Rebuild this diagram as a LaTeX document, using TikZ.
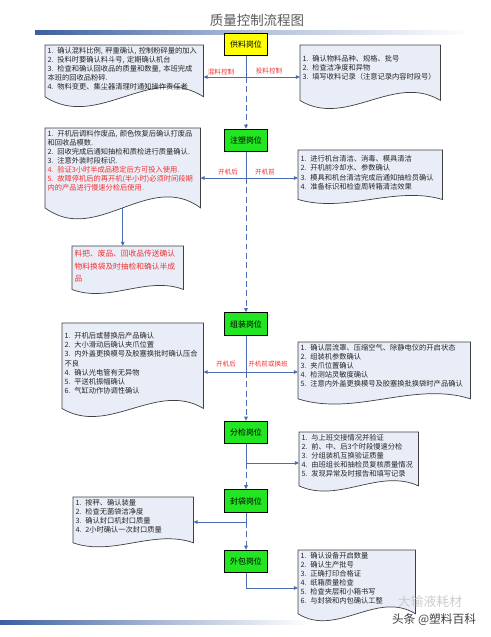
\documentclass[tikz,border=0pt]{standalone}
\usepackage{fontspec}
\newfontfamily\cjk{Noto Sans CJK SC}
\usetikzlibrary{arrows.meta,positioning,calc,backgrounds}
\XeTeXlinebreaklocale "zh"
\XeTeXlinebreakskip=0pt plus 1pt

\definecolor{flowblue}{RGB}{74,110,176}
\definecolor{docfill}{RGB}{233,237,247}
\definecolor{docedge}{RGB}{64,64,64}
\definecolor{warnred}{RGB}{240,50,50}
\definecolor{postgreen}{RGB}{34,230,34}
\definecolor{postyellow}{RGB}{255,255,0}
\definecolor{barblue}{RGB}{60,95,160}

\tikzset{
    post/.style={rectangle, draw=black, line width=0.6pt, minimum width=1.29cm, minimum height=0.68cm, inner sep=1pt, font=\cjk\fontsize{6.8}{8}\selectfont},
    greenpost/.style={post, fill=postgreen},
    docnode/.style={anchor=north west, inner xsep=2pt, inner ysep=1.5pt, align=left, font=\cjk\fontsize{6.2}{7.7}\selectfont, text=black!85},
    docline/.style={draw=docedge, line width=0.6pt, fill=docfill},
    flow/.style={draw=flowblue, line width=0.8pt},
    tip/.style={-{Triangle[length=3.5pt,width=3pt]}},
    flowdash/.style={flow, dash pattern=on 5pt off 3pt},
    tag/.style={text=warnred, font=\cjk\fontsize{5.6}{7}\selectfont, inner sep=0.5pt},
}

% document outline: node name, wave offset, wave amplitude (px)
\newcommand\docout[3]{%
  \begin{scope}[on background layer]
    \path[docline] (#1.north west) -- (#1.north east) -- ($(#1.south east)+(0,#2)$)
      .. controls ($(#1.south east)!0.33!(#1.south west)+(0,#2-#3)$)
      and ($(#1.south east)!0.67!(#1.south west)+(0,#2+#3)$) .. ($(#1.south west)+(0,#2)$) -- cycle;
  \end{scope}
  \coordinate (#1-w) at ($(#1.south)+(0,#2)$);
}

\begin{document}
\begin{tikzpicture}[x=0.03cm, y=-0.03cm]
  \useasboundingbox (0,0) rectangle (490,637);

  % title and bars
  \node[font=\cjk\fontsize{11.5}{13}\selectfont, text=black!65] (title) at (257,20) {质量控制流程图};
  \shade[left color=barblue, right color=white, middle color=barblue!40] (35,30) rectangle (470,34);
  \shade[left color=barblue, right color=white, middle color=barblue!45] (0,620) rectangle (310,624);

  % posts
  \node[post, fill=postyellow] (gongliao) at (246,44.5) {供料岗位};
  \node[greenpost] (zhusu)    at (246,140.5) {注塑岗位};
  \node[greenpost] (zuzhuang) at (246,324)   {组装岗位};
  \node[greenpost] (fenjian)  at (246,432.5) {分检岗位};
  \node[greenpost] (fengdai)  at (246,501)   {封袋岗位};
  \node[greenpost] (waibao)   at (246,561.5) {外包岗位};

  % documents
  \node[docnode, text width=4.60cm] (glL) at (45,45) {1. 确认混料比例, 秤重确认, 控制粉碎量的加入\\2. 投料时要确认料斗号, 定期确认机台\\3. 检查和确认回收品的质量和数量, 本班完成\\本班的回收品粉碎.\\4. 物料变更、集尘器清理时通知操作责任者};
  \docout{glL}{5}{34}
  \node[docnode, text width=4.06cm, minimum height=1.35cm] (glR) at (300,45) {1. 确认物料品种、规格、批号\\2. 检查洁净度和异物\\3. 填写收料记录（注意记录内容时段号）};
  \docout{glR}{10}{28}

  \node[docnode, text width=4.51cm] (zsL) at (45,128) {1. 开机后调料作废品, 颜色恢复后确认打废品\\和回收品模数.\\2. 回收完成后通知抽检和质检进行质量确认.\\3. 注意外装时段标识.\\\textcolor{warnred}{4. 验证3小时半成品稳定后方可投入使用.}\\\textcolor{warnred}{5. 故障停机后的再开机(半小时)必须时间段期}\\\textcolor{warnred}{内的产品进行慢速分检后使用.}};
  \docout{zsL}{15}{38}
  \node[docnode, text width=4.18cm, minimum height=1.35cm] (zsR) at (298,150) {1. 进行机台清洁、消毒、模具清洁\\2. 开机前冷却水、参数确认\\3. 模具和机台清洁完成后通知抽检员确认\\4. 准备标识和检查周转箱清洁效果};
  \docout{zsR}{4}{14}
  \node[docnode, text width=3.19cm, minimum height=1.2cm, text=warnred, font=\cjk\fontsize{6.6}{10.5}\selectfont] (zsRed) at (72,246) {料把、废品、回收品传送确认\\物料换袋及时抽检和确认半成\\品};
  \docout{zsRed}{3}{14}

  \node[docnode, text width=4.09cm, minimum height=2.4cm] (zzL) at (62,323) {1. 开机后或替换后产品确认\\2. 大小滑动后确认夹爪位置\\3. 内外盖更换模号及胶塞换批时确认压合\\不良\\4. 确认光电管有无异物\\5. 平送机振幅确认\\6. 气缸动作协调性确认};
  \docout{zzL}{5}{28}
  \node[docnode, text width=5.02cm] (zzR) at (298,342) {1. 确认层流罩、压缩空气、除静电仪的开启状态\\2. 组装机参数确认\\3. 夹爪位置确认\\4. 检测站灵敏度确认\\5. 注意内外盖更换模号及胶塞换批换袋时产品确认};
  \docout{zzR}{10}{18}

  \node[docnode, text width=3.43cm] (fjR) at (299,432) {1. 与上班交接情况并验证\\2. 前、中、后3个时段慢速分检\\3. 分组装机互换验证质量\\4. 由班组长和抽检员复核质量情况\\5. 发现异常及时报告和填写记录};
  \docout{fjR}{7}{18}

  \node[docnode, text width=3.46cm] (fdL) at (73,497) {1. 按秤、确认装量\\2. 检查无菌袋洁净度\\3. 确认封口机封口质量\\4. 2小时确认一次封口质量};
  \docout{fdL}{8}{14}

  \node[docnode, text width=3.37cm] (wbR) at (298,550) {1. 确认设备开启数量\\2. 确认生产批号\\3. 正确打印合格证\\4. 纸箱质量检查\\5. 检查夹层和小箱书写\\6. 与封袋和内包确认工整};
  \docout{wbR}{8}{24}

  % junctions on the main line
  \coordinate (j1) at (246,77);
  \coordinate (j2) at (246,178);
  \coordinate (j3) at (246,372);
  \coordinate (j4) at (246,463);
  \coordinate (j5) at (246,522);

  % main line
  \draw[flow] (gongliao.south) -- (j1);
  \draw[flowdash, tip] (j1) -- (zhusu.north);
  \draw[flow] (zhusu.south) -- (j2);
  \draw[flowdash, tip] (j2) -- (zuzhuang.north);
  \draw[flow] (zuzhuang.south) -- (j3);
  \draw[flowdash, tip] (j3) -- (fenjian.north);
  \draw[flow] (fenjian.south) -- (j4);
  \draw[flowdash, tip] (j4) -- (fengdai.north);
  \draw[flow] (fengdai.south) -- (j5);
  \draw[flowdash, tip] (j5) -- (waibao.north);

  % branches
  \draw[flow, tip] (j1) -- (j1 -| glL.east);
  \draw[flow, tip] (j1) -- (j1 -| glR.west);
  \draw[flow, tip] (j2) -- (j2 -| zsL.east);
  \draw[flow, tip] (j2) -- (j2 -| zsR.west);
  \draw[flow, tip] (zsL-w) -- (zsL-w |- zsRed.north);
  \draw[flow, tip] (j3) -- (j3 -| zzL.east);
  \draw[flow, tip] (j3) -- (j3 -| zzR.west);
  \draw[flow, tip] (j4) -- (j4 -| fjR.west);
  \draw[flow, tip] (j5) -- (j5 -| fdL.east);
  \draw[flow, tip] (waibao.south) |- ($(wbR.north west)+(0,38)$);

  % branch labels
  \node[tag] (t1l) at (221,72) {混料控制};
  \node[tag] (t1r) at (269,71) {投料控制};
  \node[tag] (t2l) at (228,172) {开机后};
  \node[tag] (t2r) at (265,172) {开机前};
  \node[tag] (t3l) at (226,364) {开机后};
  \node[tag] (t3r) at (268,364) {开机前或换班};

  % watermark
  \node[font=\cjk\fontsize{11}{12}\selectfont, text=black!20] (wm) at (430,602) {大输液耗材};
  \node[font=\cjk\fontsize{10}{12}\selectfont, text=black!75] (tt) at (434,620) {头条 @塑料百科};
\end{tikzpicture}
\end{document}
